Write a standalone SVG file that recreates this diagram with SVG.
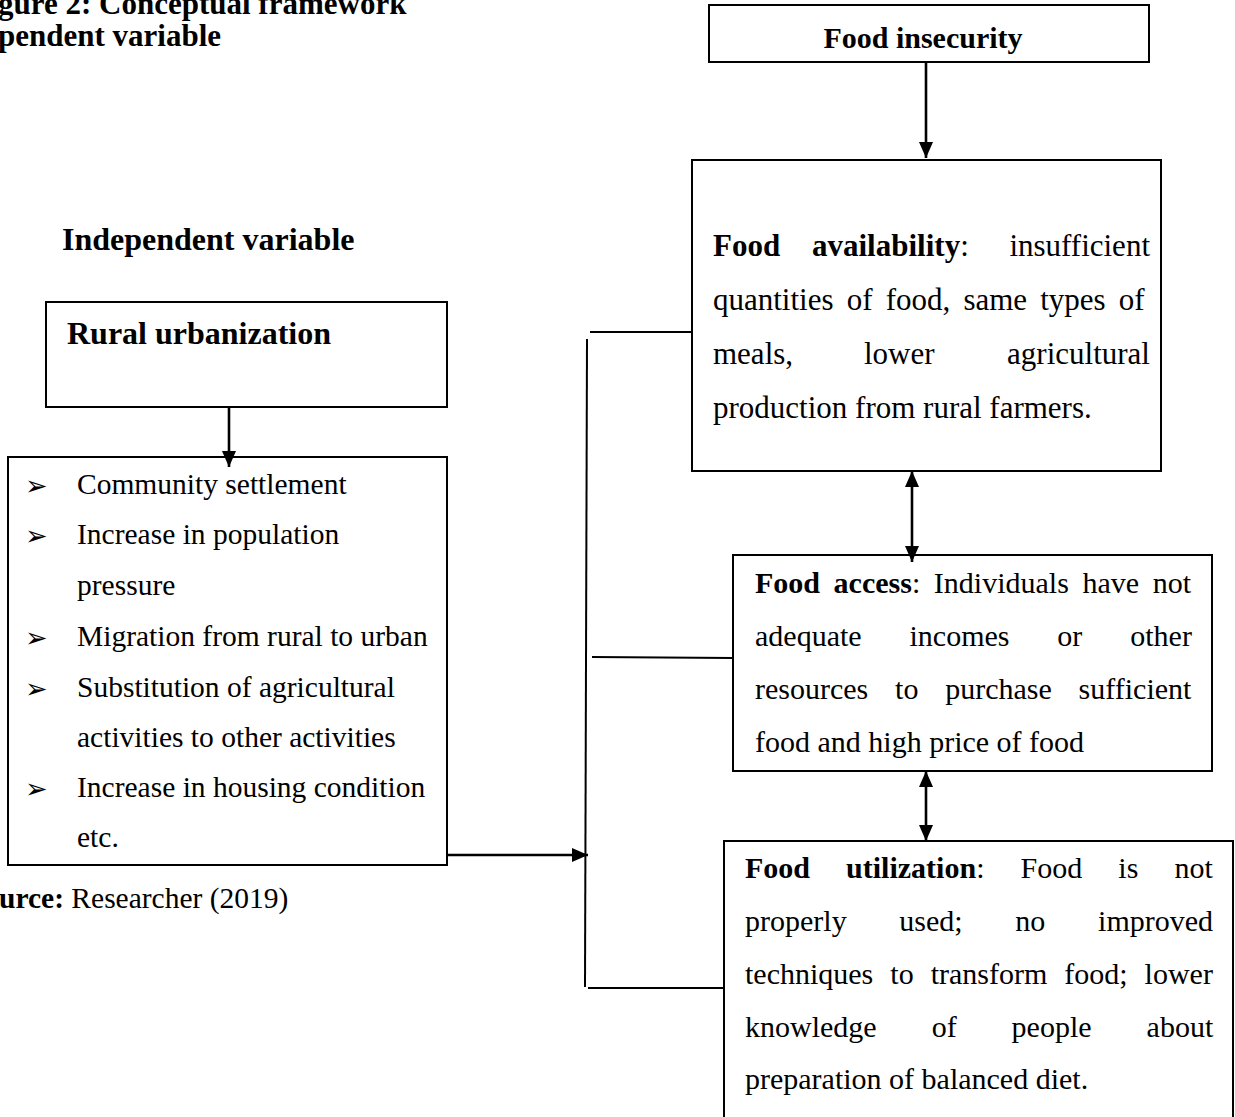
<svg xmlns="http://www.w3.org/2000/svg" width="1235" height="1117" viewBox="0 0 1235 1117">
<style>
text{font-family:"Liberation Serif","Times New Roman",serif;fill:#000}
.b{font-weight:bold}
.h{font-size:32px;font-weight:bold}
.t{font-size:31px;font-weight:bold}
.bl{font-size:29.5px}
.av{font-size:31px}
.rb{font-size:30px}
.sym{font-family:"DejaVu Sans",sans-serif;font-size:27px}
.box{fill:#fff;stroke:#000;stroke-width:2}
.ln{stroke:#000;stroke-width:2;fill:none}
.ar{stroke:#000;stroke-width:2.6;fill:none}
</style>
<defs>
<marker id="ah" viewBox="0 0 16 14" refX="16" refY="7" markerWidth="16" markerHeight="14" markerUnits="userSpaceOnUse" orient="auto-start-reverse">
<path d="M0,0 L16,7 L0,14 z" fill="#000"/>
</marker>
</defs>

<g id="title">
<text class="t" x="-2" y="14">gure 2: Conceptual framework</text>
<text class="t" x="-2" y="46">pendent variable</text>
</g>

<g id="label-independent">
<text class="h" x="62" y="250">Independent variable</text>
</g>

<g id="node-rural-urbanization">
<rect class="box" x="46" y="302" width="401" height="105"/>
<text class="h" x="67" y="344">Rural urbanization</text>
</g>

<g id="node-indicators">
<rect class="box" x="8" y="457" width="439" height="408"/>
<text class="sym" x="25" y="495">➢</text>
<text class="bl" x="77" y="494">Community settlement</text>
<text class="sym" x="25" y="545">➢</text>
<text class="bl" x="77" y="544">Increase in population</text>
<text class="bl" x="77" y="595">pressure</text>
<text class="sym" x="25" y="647">➢</text>
<text class="bl" x="77" y="646">Migration from rural to urban</text>
<text class="sym" x="25" y="698">➢</text>
<text class="bl" x="77" y="697">Substitution of agricultural</text>
<text class="bl" x="77" y="747">activities to other activities</text>
<text class="sym" x="25" y="798">➢</text>
<text class="bl" x="77" y="797">Increase in housing condition</text>
<text class="bl" x="77" y="847">etc.</text>
</g>

<g id="source">
<text class="bl" x="-1" y="908"><tspan class="b">urce:</tspan> Researcher (2019)</text>
</g>

<g id="node-food-insecurity">
<rect class="box" x="709" y="5" width="440" height="57"/>
<text class="b" x="923" y="48" font-size="30" text-anchor="middle">Food insecurity</text>
</g>

<g id="node-food-availability">
<rect class="box" x="692" y="160" width="469" height="311"/>
<text class="av b" x="713" y="256">Food</text>
<text class="av" x="812" y="256"><tspan class="b">availability</tspan>:</text>
<text class="av" x="1150" y="256" text-anchor="end">insufficient</text>
<text class="av" x="713" y="310" word-spacing="5.4">quantities of food, same types of</text>
<text class="av" x="713" y="364">meals,</text>
<text class="av" x="864" y="364">lower</text>
<text class="av" x="1150" y="364" text-anchor="end">agricultural</text>
<text class="av" x="713" y="418">production from rural farmers.</text>
</g>

<g id="node-food-access">
<rect class="box" x="733" y="555" width="479" height="216"/>
<text class="rb" x="755" y="593" word-spacing="6.1"><tspan class="b">Food access</tspan>: Individuals have not</text>
<text class="rb" x="755" y="646" word-spacing="40.4">adequate incomes or other</text>
<text class="rb" x="755" y="699" word-spacing="19.3">resources to purchase sufficient</text>
<text class="rb" x="755" y="752">food and high price of food</text>
</g>

<g id="node-food-utilization">
<rect class="box" x="724" y="841" width="509" height="300"/>
<text class="rb" x="745" y="878" word-spacing="28.6"><tspan class="b">Food utilization</tspan>: Food is not</text>
<text class="rb" x="745" y="931" word-spacing="45.2">properly used; no improved</text>
<text class="rb" x="745" y="984" word-spacing="9.5">techniques to transform food; lower</text>
<text class="rb" x="745" y="1037" word-spacing="47.5">knowledge of people about</text>
<text class="rb" x="745" y="1089">preparation of balanced diet.</text>
</g>

<g id="connectors">
<line class="ar" x1="926" y1="63" x2="926" y2="158" marker-end="url(#ah)"/>
<line class="ar" x1="229" y1="407" x2="229" y2="467" marker-end="url(#ah)"/>
<line class="ar" x1="447" y1="855" x2="588" y2="855" marker-end="url(#ah)"/>
<line class="ar" x1="912" y1="471" x2="912" y2="562" marker-start="url(#ah)" marker-end="url(#ah)"/>
<line class="ar" x1="926" y1="771" x2="926" y2="841" marker-start="url(#ah)" marker-end="url(#ah)"/>
<line class="ln" x1="587" y1="339" x2="585" y2="987"/>
<line class="ln" x1="590" y1="332" x2="692" y2="332"/>
<line class="ln" x1="592" y1="657" x2="733" y2="658"/>
<line class="ln" x1="588" y1="988" x2="724" y2="988"/>
</g>
</svg>
